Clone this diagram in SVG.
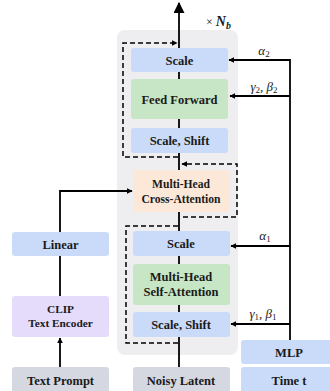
<svg xmlns="http://www.w3.org/2000/svg" width="330" height="391" viewBox="0 0 330 391">
  <defs>
    <marker id="ah" viewBox="0 0 10 10" refX="9" refY="5" markerWidth="6" markerHeight="6" markerUnits="userSpaceOnUse" orient="auto">
      <path d="M0,0 L10,5 L0,10 z" fill="#000"/>
    </marker>
    <marker id="ahBig" viewBox="0 0 10 10" refX="9" refY="5" markerWidth="11" markerHeight="11" markerUnits="userSpaceOnUse" orient="auto">
      <path d="M0,0 L10,5 L0,10 z" fill="#000"/>
    </marker>
  </defs>
  <style>
    .box text { font-family: "Liberation Serif", "Times New Roman", serif; font-weight: bold; font-size: 12.5px; fill: #1a1a1a; text-anchor: middle; }
    .box text.sm { font-size: 11.6px; }
    .box text.xs { font-size: 11.3px; }
    .blue { fill: #c9dbf9; }
    .green { fill: #c7e6c6; }
    .peach { fill: #fce8d9; }
    .lav { fill: #e5dcfb; }
    .grey { fill: #d5d8e1; }
    .ln { stroke: #000; stroke-width: 1.8; fill: none; }
    .dash { stroke: #000; stroke-width: 1.5; fill: none; stroke-dasharray: 5 3; }
    .math { font-family: "Liberation Serif", "Times New Roman", serif; font-style: italic; font-size: 13px; fill: #1a1a1a; text-anchor: middle; }
    .math.left { text-anchor: start; font-size: 14px; }
    .sub { font-size: 9px; font-style: normal; }
  </style>

  <!-- block background -->
  <rect id="block" x="117" y="30" width="121" height="325" rx="8" fill="#eeeef0"/>

  <!-- connectors -->
  <g id="connectors">
    <!-- main trunk -->
    <line class="ln" x1="179" y1="367" x2="179" y2="3" marker-end="url(#ahBig)"/>
    <!-- text branch -->
    <line class="ln" x1="60" y1="367" x2="60" y2="338" marker-end="url(#ah)"/>
    <line class="ln" x1="60" y1="296" x2="60" y2="256"/>
    <polyline class="ln" points="60,232 60,191 132,191" marker-end="url(#ah)"/>
    <!-- timestep branch -->
    <line class="ln" x1="290" y1="340" x2="290" y2="59.1"/>
    <line class="ln" x1="290" y1="60" x2="229" y2="60" marker-end="url(#ah)"/>
    <line class="ln" x1="290" y1="96" x2="230" y2="96" marker-end="url(#ah)"/>
    <line class="ln" x1="290" y1="246" x2="231" y2="246" marker-end="url(#ah)"/>
    <line class="ln" x1="290" y1="324" x2="231" y2="324" marker-end="url(#ah)"/>
    <!-- residual paths -->
    <polyline class="dash" points="178,157 123,157 123,43 177,43" marker-end="url(#ah)"/>
    <polyline class="dash" points="183,217 237,217 237,164 182,164" marker-end="url(#ah)"/>
    <polyline class="dash" points="178,343 126,343 126,226 178,226 178,229"/>
  </g>

  <!-- labels on connectors -->
  <text class="math" x="264" y="55">α<tspan class="sub" dy="2">2</tspan></text>
  <text class="math" x="264" y="91">γ<tspan class="sub" dy="2">2</tspan><tspan dy="-2" font-style="normal">, </tspan><tspan>β</tspan><tspan class="sub" dy="2">2</tspan></text>
  <text class="math" x="265" y="240">α<tspan class="sub" dy="2">1</tspan></text>
  <text class="math" x="263" y="318">γ<tspan class="sub" dy="2">1</tspan><tspan dy="-2" font-style="normal">, </tspan><tspan>β</tspan><tspan class="sub" dy="2">1</tspan></text>
  <text class="math left" x="206" y="26"><tspan font-style="normal" font-size="12">× </tspan><tspan font-weight="bold">N</tspan><tspan dy="2.5" font-weight="bold" font-size="10">b</tspan></text>

  <!-- upper half: cross-attention / feed-forward -->
  <g id="scale2" class="box">
    <rect class="blue" x="131" y="48" width="97" height="24" rx="3"/>
    <text x="179.5" y="64.5">Scale</text>
  </g>
  <g id="ffn" class="box">
    <rect class="green" x="131" y="79" width="97" height="40" rx="3"/>
    <text x="179.5" y="103.5">Feed Forward</text>
  </g>
  <g id="scaleshift2" class="box">
    <rect class="blue" x="131" y="128" width="97" height="25" rx="3"/>
    <text x="179.5" y="145">Scale, Shift</text>
  </g>
  <g id="crossattn" class="box">
    <rect class="peach" x="133" y="170" width="96" height="42" rx="3"/>
    <text class="sm" x="181" y="188">Multi-Head</text>
    <text class="sm" x="181" y="203">Cross-Attention</text>
  </g>

  <!-- lower half: self-attention -->
  <g id="scale1" class="box">
    <rect class="blue" x="133" y="231" width="97" height="25" rx="3"/>
    <text x="181" y="248">Scale</text>
  </g>
  <g id="selfattn" class="box">
    <rect class="green" x="133" y="264" width="97" height="41" rx="3"/>
    <text x="181" y="281">Multi-Head</text>
    <text x="181" y="296">Self-Attention</text>
  </g>
  <g id="scaleshift1" class="box">
    <rect class="blue" x="133" y="312" width="97" height="25" rx="3"/>
    <text x="181" y="329">Scale, Shift</text>
  </g>

  <!-- text conditioning -->
  <g id="linear" class="box">
    <rect class="blue" x="12" y="232" width="97" height="24" rx="3"/>
    <text x="60.5" y="248.5">Linear</text>
  </g>
  <g id="clip" class="box">
    <rect class="lav" x="12" y="296" width="97" height="41" rx="3"/>
    <text class="xs" x="60.5" y="313">CLIP</text>
    <text class="xs" x="60.5" y="327">Text Encoder</text>
  </g>
  <g id="prompt" class="box">
    <rect class="grey" x="12" y="367" width="97" height="26" rx="3"/>
    <text x="60.5" y="384.5">Text Prompt</text>
  </g>

  <!-- latent input -->
  <g id="latent" class="box">
    <rect class="grey" x="133" y="367" width="97" height="26" rx="3"/>
    <text x="181" y="384.5">Noisy Latent</text>
  </g>

  <!-- timestep conditioning -->
  <g id="mlp" class="box">
    <rect class="blue" x="241" y="340" width="92" height="24" rx="3"/>
    <text x="289" y="356.5">MLP</text>
  </g>
  <g id="time" class="box">
    <rect class="blue" x="241" y="367" width="92" height="26" rx="3"/>
    <text x="289" y="384.5">Time t</text>
  </g>
</svg>
